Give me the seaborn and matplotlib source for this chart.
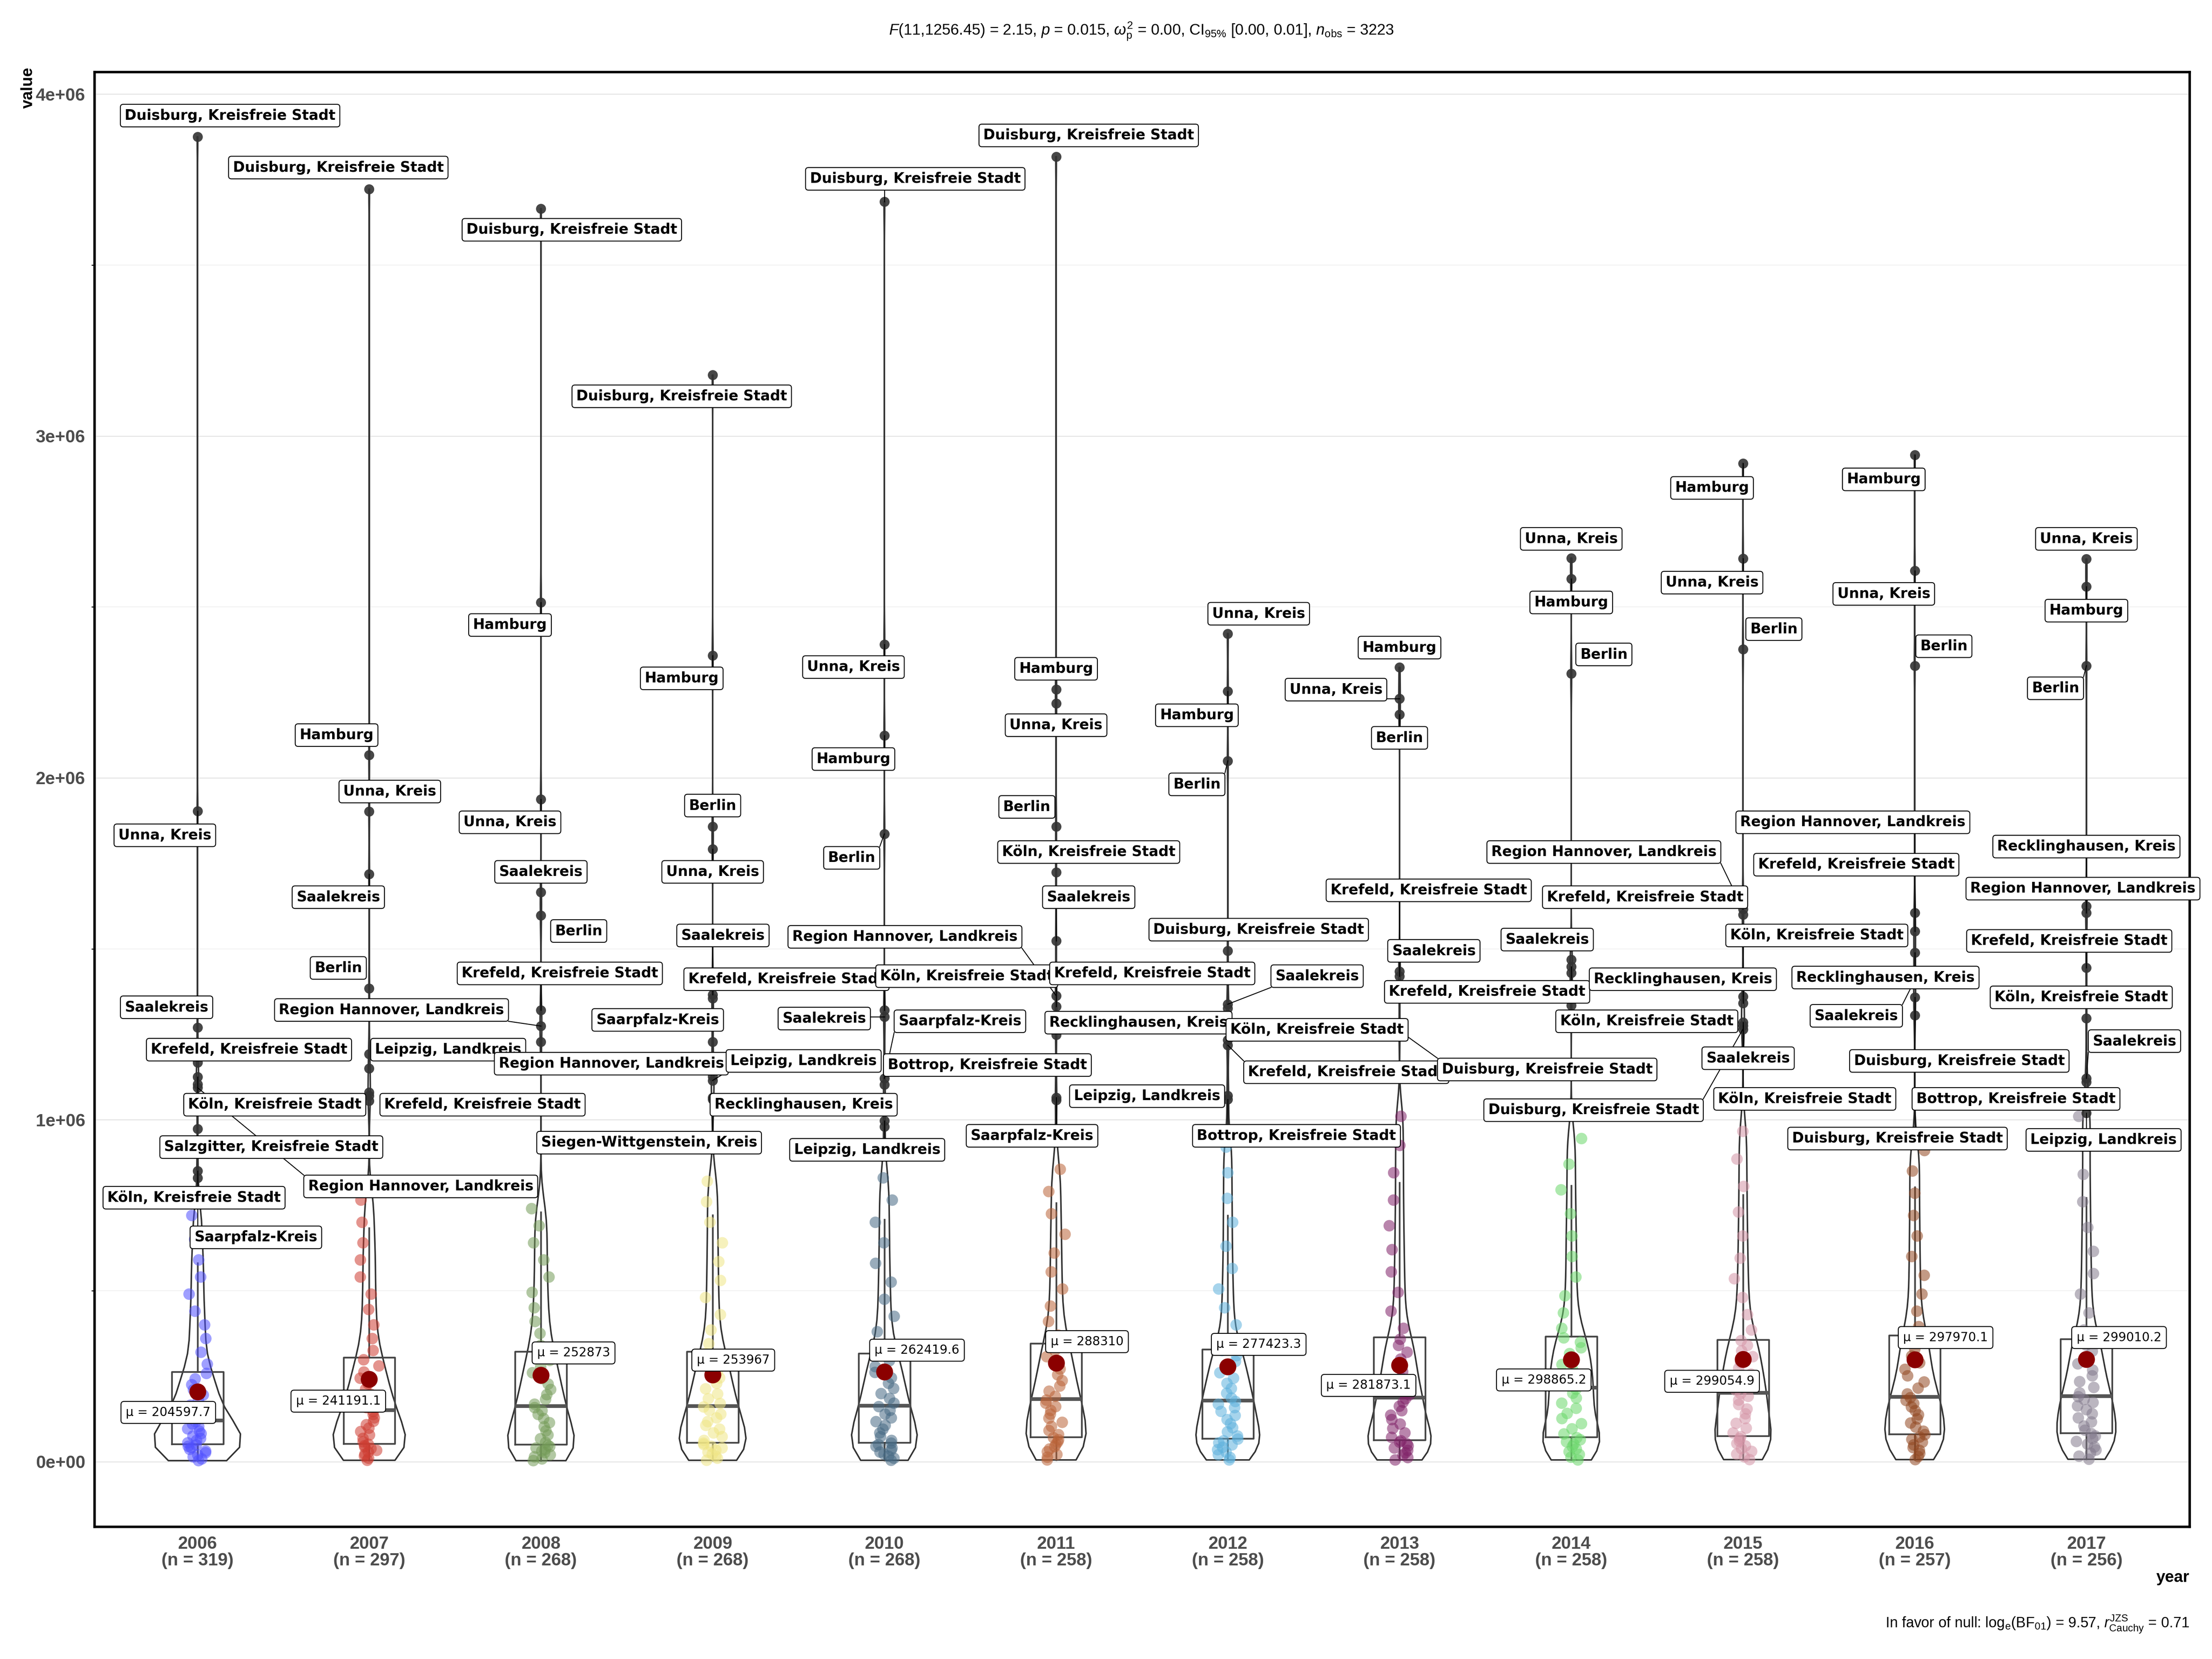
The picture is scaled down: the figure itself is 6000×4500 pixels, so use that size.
import matplotlib
matplotlib.use("Agg")
import numpy as np
import pandas as pd
import matplotlib.pyplot as plt
from matplotlib.ticker import MultipleLocator
import seaborn as sns

# ---------------- data ----------------
years = [2006, 2007, 2008, 2009, 2010, 2011, 2012, 2013, 2014, 2015, 2016, 2017]
n_obs = [319, 297, 268, 268, 268, 258, 258, 258, 258, 258, 257, 256]
mean_values = [204597.7, 241191.1, 252873.0, 253967.0, 262419.6, 288310.0,
               277423.3, 281873.1, 298865.2, 299054.9, 297970.1, 299010.2]
# box statistics (thousands)
q1_k = [51, 53, 50, 56, 56, 72, 68, 63, 72, 75, 81, 84]
median_k = [120, 151, 162, 163, 164, 183, 179, 187, 216, 201, 189, 192]
q3_k = [263, 305, 322, 322, 317, 346, 329, 364, 366, 357, 370, 359]

# non-outlier observations (thousands), estimated from the jittered points
body_2006 = [3, 8, 14, 20, 26, 31, 36, 41, 45, 49, 55, 62, 68, 75, 82, 89, 96, 103, 110, 117,
             128, 140, 152, 165, 180, 195, 210, 225, 242, 258, 285, 320, 360, 400, 440, 490, 540, 590, 650, 720]
body_2007 = [4, 10, 16, 22, 28, 33, 38, 43, 47, 51, 58, 68, 78, 88, 98, 108, 118, 128, 138, 147,
             158, 170, 183, 197, 212, 228, 244, 262, 280, 298, 325, 360, 400, 445, 490, 540, 590, 640, 700, 765]
body_2008 = [3, 8, 14, 20, 26, 31, 36, 40, 44, 48, 56, 67, 78, 90, 102, 114, 126, 138, 149, 158,
             168, 182, 196, 211, 227, 243, 260, 278, 296, 315, 340, 375, 410, 450, 495, 540, 590, 640, 690, 740]
body_2009 = [4, 10, 16, 22, 28, 34, 40, 45, 50, 54, 62, 73, 84, 95, 106, 117, 128, 139, 150, 160,
             170, 184, 198, 213, 229, 245, 262, 280, 298, 316, 345, 385, 430, 480, 530, 585, 640, 700, 760, 820]
body_2010 = [4, 10, 16, 22, 28, 34, 40, 45, 50, 54, 62, 73, 84, 95, 106, 117, 128, 139, 150, 161,
             171, 185, 199, 214, 229, 245, 261, 278, 295, 312, 340, 380, 425, 475, 525, 580, 640, 700, 765, 830]
body_2011 = [5, 13, 21, 29, 37, 44, 51, 58, 64, 70, 79, 91, 103, 115, 127, 139, 150, 161, 171, 180,
             191, 206, 221, 237, 254, 271, 289, 307, 325, 341, 370, 410, 455, 505, 555, 610, 665, 725, 790, 855]
body_2012 = [5, 12, 20, 28, 35, 42, 49, 55, 61, 66, 75, 87, 99, 111, 123, 135, 147, 158, 168, 176,
             186, 200, 214, 229, 244, 260, 276, 293, 310, 325, 355, 400, 450, 505, 565, 630, 700, 770, 845, 920]
body_2013 = [5, 12, 19, 26, 33, 40, 46, 52, 57, 61, 71, 84, 97, 110, 123, 136, 149, 162, 174, 184,
             195, 211, 228, 245, 263, 281, 300, 320, 340, 358, 390, 440, 495, 555, 620, 690, 765, 845, 925, 1010]
body_2014 = [5, 13, 21, 29, 37, 44, 51, 58, 64, 70, 81, 96, 111, 126, 141, 156, 171, 186, 200, 212,
             223, 238, 253, 268, 284, 300, 316, 333, 349, 362, 390, 435, 485, 540, 600, 660, 725, 795, 870, 945]
body_2015 = [6, 14, 22, 30, 38, 46, 53, 60, 67, 73, 84, 98, 112, 126, 140, 154, 167, 180, 191, 199,
             209, 224, 240, 256, 273, 290, 307, 324, 340, 354, 385, 430, 480, 535, 595, 660, 730, 805, 885, 966]
body_2016 = [6, 15, 24, 33, 41, 49, 57, 65, 72, 79, 89, 101, 113, 125, 137, 149, 160, 170, 179, 187,
             198, 215, 233, 251, 270, 289, 309, 329, 349, 366, 395, 440, 490, 545, 600, 660, 720, 785, 850, 910]
body_2017 = [7, 16, 25, 34, 43, 51, 59, 67, 75, 82, 92, 104, 116, 128, 140, 152, 163, 173, 182, 190,
             201, 217, 234, 251, 268, 286, 304, 323, 341, 356, 385, 435, 490, 550, 615, 685, 760, 840, 925, 1010]

# outliers: (name, value in millions); "" = unlabelled point
outliers_2006 = [("Duisburg, Kreisfreie Stadt", 3.875), ("Unna, Kreis", 1.903), ("Saalekreis", 1.270),
                 ("Krefeld, Kreisfreie Stadt", 1.168), ("Köln, Kreisfreie Stadt", 1.125), ("", 1.104),
                 ("Region Hannover, Landkreis", 1.094), ("Salzgitter, Kreisfreie Stadt", 0.973),
                 ("Köln, Kreisfreie Stadt", 0.850), ("Saarpfalz-Kreis", 0.830)]
outliers_2007 = [("Duisburg, Kreisfreie Stadt", 3.722), ("Hamburg", 2.067), ("Unna, Kreis", 1.902),
                 ("Saalekreis", 1.718), ("Berlin", 1.384), ("Leipzig, Landkreis", 1.192), ("", 1.150),
                 ("", 1.080), ("Krefeld, Kreisfreie Stadt", 1.070), ("", 1.055)]
outliers_2008 = [("Duisburg, Kreisfreie Stadt", 3.665), ("Hamburg", 2.513), ("Unna, Kreis", 1.937),
                 ("Saalekreis", 1.666), ("Berlin", 1.598), ("Krefeld, Kreisfreie Stadt", 1.321),
                 ("Region Hannover, Landkreis", 1.274), ("", 1.228)]
outliers_2009 = [("Duisburg, Kreisfreie Stadt", 3.178), ("Hamburg", 2.358), ("Berlin", 1.858),
                 ("Unna, Kreis", 1.792), ("Saalekreis", 1.366), ("Krefeld, Kreisfreie Stadt", 1.355),
                 ("Saarpfalz-Kreis", 1.228), ("Region Hannover, Landkreis", 1.127),
                 ("Leipzig, Landkreis", 1.115), ("Recklinghausen, Kreis", 1.065),
                 ("Siegen-Wittgenstein, Kreis", 1.060)]
outliers_2010 = [("Duisburg, Kreisfreie Stadt", 3.685), ("Unna, Kreis", 2.390), ("Hamburg", 2.124),
                 ("Berlin", 1.836), ("Köln, Kreisfreie Stadt", 1.321), ("Saalekreis", 1.301),
                 ("Saarpfalz-Kreis", 1.121), ("Bottrop, Kreisfreie Stadt", 1.103),
                 ("Leipzig, Landkreis", 0.997), ("", 0.980)]
outliers_2011 = [("Duisburg, Kreisfreie Stadt", 3.817), ("Hamburg", 2.259), ("Unna, Kreis", 2.218),
                 ("Berlin", 1.858), ("Köln, Kreisfreie Stadt", 1.724), ("Saalekreis", 1.523),
                 ("Region Hannover, Landkreis", 1.363), ("Krefeld, Kreisfreie Stadt", 1.331),
                 ("Recklinghausen, Kreis", 1.248), ("Saarpfalz-Kreis", 1.065), ("", 1.058)]
outliers_2012 = [("Unna, Kreis", 2.422), ("Hamburg", 2.253), ("Berlin", 2.050),
                 ("Duisburg, Kreisfreie Stadt", 1.494), ("Saalekreis", 1.338), ("", 1.326),
                 ("Köln, Kreisfreie Stadt", 1.233), ("Krefeld, Kreisfreie Stadt", 1.218),
                 ("Leipzig, Landkreis", 1.070), ("Bottrop, Kreisfreie Stadt", 1.060)]
outliers_2013 = [("Hamburg", 2.323), ("Unna, Kreis", 2.232), ("Berlin", 2.185),
                 ("Krefeld, Kreisfreie Stadt", 1.420), ("Saalekreis", 1.434),
                 ("Duisburg, Kreisfreie Stadt", 1.260)]
outliers_2014 = [("Unna, Kreis", 2.643), ("Hamburg", 2.582), ("Berlin", 2.305), ("Saalekreis", 1.468),
                 ("Krefeld, Kreisfreie Stadt", 1.448), ("", 1.430), ("Köln, Kreisfreie Stadt", 1.335)]
outliers_2015 = [("Hamburg", 2.920), ("Unna, Kreis", 2.642), ("Berlin", 2.376),
                 ("Region Hannover, Landkreis", 1.616), ("Krefeld, Kreisfreie Stadt", 1.600),
                 ("Köln, Kreisfreie Stadt", 1.361), ("Recklinghausen, Kreis", 1.341), ("Saalekreis", 1.285),
                 ("Köln, Kreisfreie Stadt", 1.275), ("Duisburg, Kreisfreie Stadt", 1.265)]
outliers_2016 = [("Hamburg", 2.945), ("Unna, Kreis", 2.606), ("Berlin", 2.328),
                 ("Region Hannover, Landkreis", 1.605), ("Krefeld, Kreisfreie Stadt", 1.551),
                 ("Recklinghausen, Kreis", 1.489), ("Saalekreis", 1.408),
                 ("Duisburg, Kreisfreie Stadt", 1.358), ("Duisburg, Kreisfreie Stadt", 1.305)]
outliers_2017 = [("Unna, Kreis", 2.640), ("Hamburg", 2.560), ("Berlin", 2.328),
                 ("Recklinghausen, Kreis", 1.625), ("Region Hannover, Landkreis", 1.605),
                 ("Krefeld, Kreisfreie Stadt", 1.445), ("Köln, Kreisfreie Stadt", 1.297),
                 ("Saalekreis", 1.121), ("Bottrop, Kreisfreie Stadt", 1.110), ("Leipzig, Landkreis", 1.020)]

# ---------------- layout (label placement: x offset in categories, y in millions) ----------------
labelpos_2006 = [(0.19, 3.937), (-0.19, 1.832), (-0.18, 1.329), (0.30, 1.205), (0.45, 1.044), None,
                 (1.30, 0.805), (0.43, 0.920), (-0.02, 0.772), (0.34, 0.656)]
labelpos_2007 = [(-0.18, 3.785), (-0.19, 2.125), (0.12, 1.960), (-0.18, 1.651), (-0.18, 1.444),
                 (0.46, 1.205), None, None, (0.66, 1.044), None]
labelpos_2008 = [(0.18, 3.603), (-0.18, 2.447), (-0.18, 1.870), (0.0, 1.725), (0.22, 1.552),
                 (0.11, 1.428), (-0.87, 1.321), None]
labelpos_2009 = [(-0.18, 3.116), (-0.18, 2.291), (0.0, 1.919), (0.0, 1.725), (0.06, 1.539),
                 (0.43, 1.411), (-0.32, 1.292), (-0.59, 1.164), (0.53, 1.172), (0.53, 1.044),
                 (-0.37, 0.933)]
labelpos_2010 = [(0.18, 3.752), (-0.18, 2.324), (-0.18, 2.055), (-0.19, 1.766), (0.48, 1.420),
                 (-0.35, 1.296), (0.44, 1.288), (0.60, 1.160), (-0.10, 0.912), None]
labelpos_2011 = [(0.19, 3.879), (0.0, 2.319), (0.0, 2.154), (-0.17, 1.915), (0.19, 1.783),
                 (0.19, 1.651), (-0.88, 1.535), (0.56, 1.428), (0.48, 1.284), (-0.14, 0.953), None]
labelpos_2012 = [(0.18, 2.480), (-0.18, 2.183), (-0.18, 1.981), (0.18, 1.556), (0.52, 1.420), None,
                 (0.52, 1.263), (0.69, 1.139), (-0.47, 1.069), (0.40, 0.953)]
labelpos_2013 = [(0.0, 2.381), (-0.37, 2.258), (0.0, 2.117), (0.17, 1.671), (0.20, 1.494), (0.86, 1.147)]
labelpos_2014 = [(0.0, 2.699), (0.0, 2.513), (0.19, 2.361), (-0.14, 1.527), (-0.49, 1.374), None,
                 (0.44, 1.288)]
labelpos_2015 = [(-0.18, 2.848), (-0.18, 2.571), (0.18, 2.435), (-0.81, 1.783), (-0.57, 1.651),
                 (0.43, 1.539), (-0.35, 1.411), (0.03, 1.180), (0.36, 1.061), (-0.87, 1.028)]
labelpos_2016 = [(-0.18, 2.873), (-0.18, 2.538), (0.17, 2.385), (-0.36, 1.870), (-0.34, 1.746),
                 (-0.17, 1.416), (-0.34, 1.304), (0.26, 1.172), (-0.10, 0.945)]
labelpos_2017 = [(0.0, 2.699), (0.0, 2.489), (-0.18, 2.262), (0.0, 1.799), (-0.02, 1.676),
                 (-0.10, 1.523), (-0.03, 1.358), (0.28, 1.230), (-0.41, 1.061), (0.10, 0.941)]
mean_label_dx = [-0.17, -0.18, 0.19, 0.12, 0.19, 0.18, 0.18, -0.18, -0.16, -0.18, 0.18, 0.19]
mean_label_y_m = [0.144, 0.177, 0.318, 0.297, 0.326, 0.351, 0.343, 0.223, 0.239, 0.235, 0.363, 0.363]

palette = ["#5050FF", "#CE3D32", "#749B58", "#F0E685", "#466983", "#BA6338",
           "#5DB1DD", "#802268", "#6BD76B", "#D595A7", "#924822", "#837B8D"]
ytick_values = [0, 1e6, 2e6, 3e6, 4e6]
ytick_labels = ["0e+00", "1e+06", "2e+06", "3e+06", "4e+06"]

# ---------------- assemble ----------------
bodies = [body_2006, body_2007, body_2008, body_2009, body_2010, body_2011,
          body_2012, body_2013, body_2014, body_2015, body_2016, body_2017]
outliers = [outliers_2006, outliers_2007, outliers_2008, outliers_2009, outliers_2010, outliers_2011,
            outliers_2012, outliers_2013, outliers_2014, outliers_2015, outliers_2016, outliers_2017]
labelpos = [labelpos_2006, labelpos_2007, labelpos_2008, labelpos_2009, labelpos_2010, labelpos_2011,
            labelpos_2012, labelpos_2013, labelpos_2014, labelpos_2015, labelpos_2016, labelpos_2017]
year_labels = [str(y) for y in years]

body_rows = [(year_labels[i], v * 1000.0) for i, b in enumerate(bodies) for v in b]
out_rows = [(year_labels[i], v * 1e6) for i, o in enumerate(outliers) for _, v in o]
df_body = pd.DataFrame(body_rows, columns=["year", "value"])

# for the density, each estimated body value stands for several of the n observations
violin_rows = []
for i, b in enumerate(bodies):
    k = max(1, int(round((n_obs[i] - len(outliers[i])) / len(b))))
    violin_rows += [(year_labels[i], v * 1000.0) for v in b for _ in range(k)]
df_violin = pd.DataFrame(violin_rows + out_rows, columns=["year", "value"])

plt.rcParams["font.family"] = ["Liberation Sans", "DejaVu Sans"]
plt.rcParams["mathtext.fontset"] = "custom"
plt.rcParams["mathtext.rm"] = "Liberation Sans"
plt.rcParams["mathtext.it"] = "Liberation Sans:italic"
plt.rcParams["mathtext.bf"] = "Liberation Sans:bold"

fig, ax = plt.subplots(figsize=(20, 15), dpi=300)
fig.subplots_adjust(left=0.0427, right=0.9898, bottom=0.0798, top=0.9567)
ax.set_facecolor("white")

# grid
ax.set_axisbelow(True)
ax.yaxis.set_minor_locator(MultipleLocator(5e5))
ax.grid(which="major", color="#e6e6e6", lw=0.7, zorder=0)
ax.grid(which="minor", axis="y", color="#f0f0f0", lw=0.5, zorder=0)

# violins
sns.violinplot(data=df_violin, x="year", y="value", order=year_labels, cut=0, inner=None,
               fill=False, color="#333333", saturation=1, linewidth=1.0,
               density_norm="area", width=0.5, bw_method=0.15, ax=ax, zorder=2)

# boxes
stats = []
for i in range(len(years)):
    q1, med, q3 = q1_k[i] * 1000.0, median_k[i] * 1000.0, q3_k[i] * 1000.0
    hi = min(max(bodies[i]) * 1000.0, q3 + 1.5 * (q3 - q1))
    stats.append(dict(med=med, q1=q1, q3=q3, whislo=min(bodies[i]) * 1000.0, whishi=hi))
ax.bxp(stats, positions=list(range(len(years))), widths=0.3, showfliers=False, showcaps=False,
       boxprops=dict(color="#444444", lw=1.1), medianprops=dict(color="#555555", lw=2.4),
       whiskerprops=dict(color="#444444", lw=1.1), manage_ticks=False, zorder=3)

# jittered points
np.random.seed(3)
sns.stripplot(data=df_body, x="year", y="value", order=year_labels, hue="year",
              hue_order=year_labels, palette=palette, jitter=0.06, size=7.5, alpha=0.55,
              linewidth=0, legend=False, ax=ax, zorder=4)

# outlier points
ox = [i for i, o in enumerate(outliers) for _ in o]
oy = [v * 1e6 for o in outliers for _, v in o]
ax.scatter(ox, oy, s=6.5 ** 2, color="#333333", alpha=0.9, linewidths=0, zorder=5)

# means
ax.scatter(list(range(len(years))), mean_values, s=11 ** 2, color="#8B0000", linewidths=0, zorder=6)
for i, m in enumerate(mean_values):
    txt = f"{m:.1f}".rstrip("0").rstrip(".")
    ax.text(i + mean_label_dx[i], mean_label_y_m[i] * 1e6, "μ = " + txt, ha="center", va="center",
            fontsize=8.0, family="DejaVu Sans", color="black", zorder=8,
            bbox=dict(boxstyle="round,pad=0.4,rounding_size=0.25", fc="white", ec="black", lw=0.6))

# outlier labels
label_objs = []
for i, (o, lp) in enumerate(zip(outliers, labelpos)):
    for (name, v), pos in zip(o, lp):
        if not name or pos is None:
            continue
        t = ax.text(i + pos[0], pos[1] * 1e6, name, ha="center", va="center", fontsize=9.3,
                    fontweight="bold", family="DejaVu Sans", color="black", zorder=8,
                    bbox=dict(boxstyle="round,pad=0.3,rounding_size=0.2", fc="white", ec="black", lw=0.6))
        label_objs.append((t, i, v * 1e6))

# axes
ax.set_xlim(-0.6, 11.6)
ax.set_ylim(-0.19e6, 4.065e6)
ax.set_yticks(ytick_values)
ax.set_yticklabels(ytick_labels, fontsize=11.5, fontweight="bold", color="#4D4D4D")
ax.set_xticks(list(range(len(years))))
ax.set_xticklabels([f"{y}\n(n = {n})" for y, n in zip(years, n_obs)], fontsize=11.5,
                   fontweight="bold", color="#4D4D4D", linespacing=1.0)
ax.tick_params(axis="both", length=0, pad=6)
ax.set_xlabel("")
ax.set_ylabel("")
for s in ax.spines.values():
    s.set_visible(True)
    s.set_color("black")
    s.set_linewidth(1.6)

# segments from points to their labels
fig.canvas.draw()
r = fig.canvas.get_renderer()
inv = ax.transData.inverted()
for t, i, v in label_objs:
    bb = t.get_bbox_patch().get_window_extent(r)
    px, py = ax.transData.transform((i, v))
    nx = min(max(px, bb.x0), bb.x1)
    ny = min(max(py, bb.y0), bb.y1)
    if np.hypot(nx - px, ny - py) > 30:
        (x0, y0), (x1, y1) = inv.transform((px, py)), inv.transform((nx, ny))
        ax.plot([x0, x1], [y0, y1], color="black", lw=0.6, zorder=7)

# titles
fig.text(0.516, 0.981,
         r"$\mathit{F}$(11,1256.45) = 2.15, $\mathit{p}$ = 0.015, $\omega_{\mathrm{p}}^{2}$ = 0.00, "
         r"CI$_{95\%}$ [0.00, 0.01], $\mathit{n}_{\mathrm{obs}}$ = 3223",
         ha="center", va="center", fontsize=10)
fig.text(0.9898, 0.021,
         r"In favor of null: log$_{\mathrm{e}}$(BF$_{01}$) = 9.57, $\mathit{r}_{\mathrm{Cauchy}}^{\mathrm{JZS}}$ = 0.71",
         ha="right", va="center", fontsize=9.5)
fig.text(0.0128, 0.947, "value", rotation=90, ha="center", va="center", fontsize=10.5, fontweight="bold")
fig.text(0.9898, 0.049, "year", ha="right", va="center", fontsize=10.5, fontweight="bold")

fig.savefig("out.png", dpi=300, facecolor="white")
